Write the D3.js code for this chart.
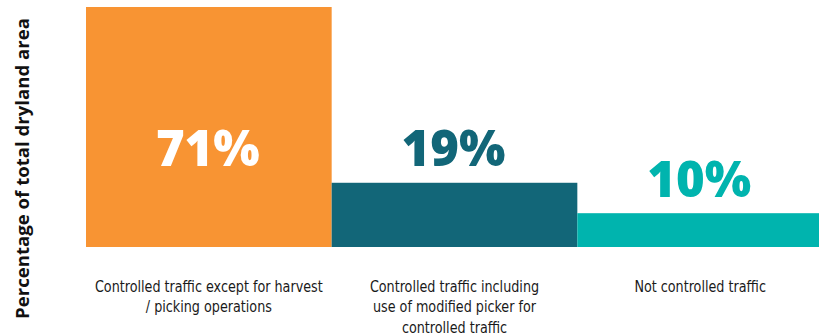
<!DOCTYPE html>
<html>
<head>
<meta charset="utf-8">
<script src="https://cdn.jsdelivr.net/npm/d3@7"></script>
<style>
  html, body { margin: 0; padding: 0; background: #fff; overflow: hidden; }
  svg { display: block; }
</style>
</head>
<body>
<svg id="chart" width="819" height="336"></svg>
<script>
// Share of dryland area by traffic-control practice
const categories = [
  ["Controlled traffic except for harvest", "/ picking operations"],
  ["Controlled traffic including", "use of modified picker for", "controlled traffic"],
  ["Not controlled traffic"]
];
const values = [71, 19, 10];
const valueLabels = ["71%", "19%", "10%"];
const colors = ["#F89433", "#126678", "#00B4AE"];
const yTitle = "Percentage of total dryland area";

(function draw() {
  const svg = d3.select("#chart");
  const plotLeft = 86, plotRight = 823, baseY = 247, topY = 7;

  const x = d3.scaleBand().domain(d3.range(values.length)).range([plotLeft, plotRight]).padding(0);
  const y = d3.scaleLinear().domain([0, d3.max(values)]).range([baseY, topY]);

  // bars
  svg.selectAll("rect.bar").data(values).join("rect")
    .attr("class", "bar")
    .attr("x", (d, i) => x(i))
    .attr("y", d => y(d))
    .attr("width", x.bandwidth())
    .attr("height", d => baseY - y(d))
    .attr("fill", (d, i) => colors[i]);

  // value labels: inside tall bars (white), above short bars (bar colour)
  svg.selectAll("text.val").data(values).join("text")
    .attr("class", "val")
    .attr("x", (d, i) => x(i) + x.bandwidth() / 2 - 1)
    .attr("y", d => d > 40 ? y(d * 0.3365) : y(d) - 16.5)
    .attr("text-anchor", "middle")
    .attr("font-family", "'Open Sans', sans-serif")
    .attr("font-weight", 800)
    .attr("font-size", 49)
    .attr("fill", (d, i) => d > 40 ? "#ffffff" : colors[i])
    .text((d, i) => valueLabels[i]);

  // category labels, set in a horizontally condensed face
  const sx = 0.887;
  const cat = svg.append("g").attr("transform", `scale(${sx},1)`)
    .selectAll("text.cat").data(categories).join("text")
    .attr("class", "cat")
    .attr("text-anchor", "middle")
    .attr("font-family", "'DejaVu Sans Condensed', sans-serif")
    .attr("font-size", 16)
    .attr("fill", "#1a1a1a");
  cat.selectAll("tspan").data((d, i) => d.map(line => ({ line, i }))).join("tspan")
    .attr("x", d => (x(d.i) + x.bandwidth() / 2) / sx)
    .attr("y", (d, j) => 292 + j * 20.5)
    .text(d => d.line);

  // y-axis title
  svg.append("text")
    .attr("transform", "translate(29,168.5) rotate(-90)")
    .attr("text-anchor", "middle")
    .attr("font-family", "'Open Sans', sans-serif")
    .attr("font-weight", 700)
    .attr("font-size", 18.6)
    .attr("fill", "#111")
    .text(yTitle);
})();
</script>
</body>
</html>
